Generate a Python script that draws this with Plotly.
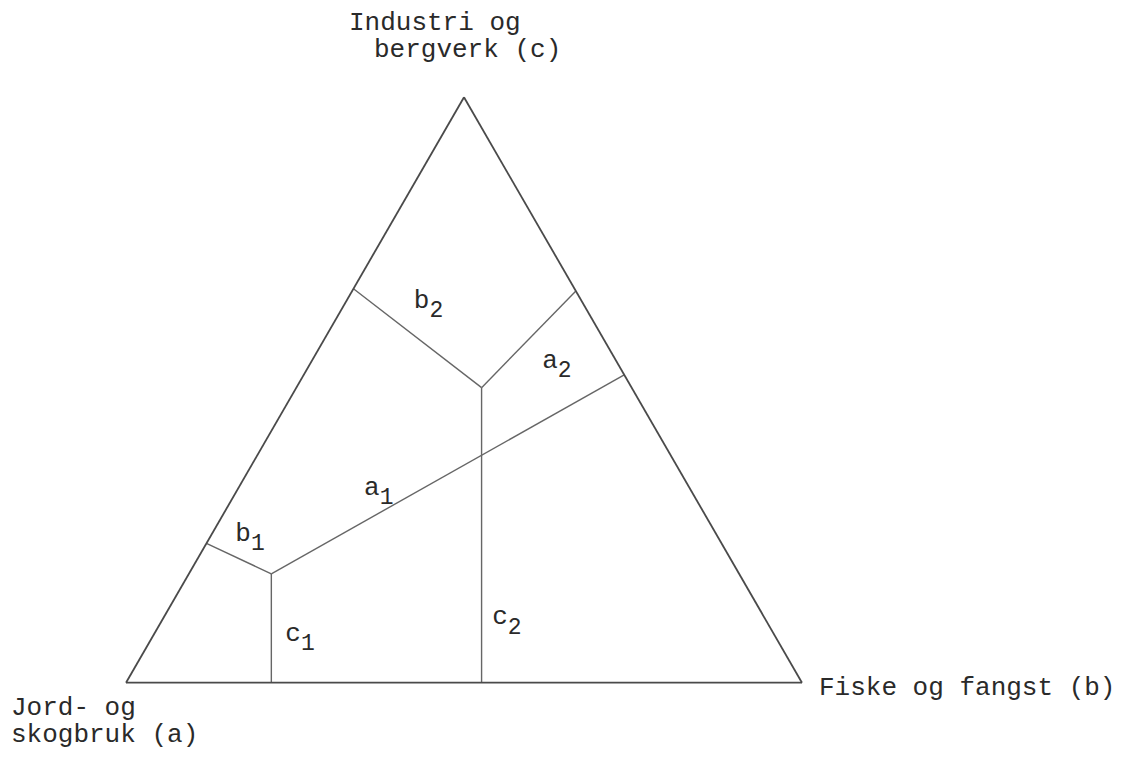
import plotly.graph_objects as go

# shares in percent: a = Jord- og skogbruk, b = Fiske og fangst, c = Industri og bergverk
boundaries = ['b1', 'c1', 'a1', 'b2', 'a2', 'c2']
a_from = [76.2, 78.5, 69.2, 32.7, 0.0, 47.4]
b_from = [0.0, 21.5, 12.2, 0.0, 33.1, 52.6]
c_from = [23.8, 0.0, 18.6, 67.3, 66.9, 0.0]
a_to = [69.2, 69.2, 0.0, 22.2, 22.2, 22.2]
b_to = [12.2, 12.2, 47.4, 27.4, 27.4, 27.4]
c_to = [18.6, 18.6, 52.6, 50.4, 50.4, 50.4]

# region labels
region_letters = ['b', 'c', 'a', 'b', 'a', 'c']
region_numbers = ['1', '1', '1', '2', '2', '2']
label_a = [69.0, 70.1, 46.0, 22.7, 8.8, 38.1]
label_b = [5.7, 21.6, 20.8, 12.2, 36.3, 50.8]
label_c = [25.3, 8.3, 33.2, 65.1, 54.9, 11.1]

# the page body adds an 8 px offset, so the figure is drawn 8 px smaller
OFF = 8
W, H = 1138 - OFF, 757 - OFF
L, R, T, B = 126 - OFF, 802 - OFF, 97 - OFF, 683 - OFF   # triangle box

FONT = 'Liberation Mono, Courier New, monospace'
INK = '#2a2a2a'

fig = go.Figure()

# plotly ternary: aaxis = top, baxis = bottom-left, caxis = bottom-right
for i in range(len(boundaries)):
    fig.add_trace(go.Scatterternary(
        a=[c_from[i], c_to[i]],
        b=[a_from[i], a_to[i]],
        c=[b_from[i], b_to[i]],
        mode='lines',
        line=dict(color='#666666', width=1.4),
        hoverinfo='skip',
        showlegend=False,
    ))

labels = [f'{l}<sub><sub><span style="font-size:23px">{n}</span></sub></sub>'
          for l, n in zip(region_letters, region_numbers)]
fig.add_trace(go.Scatterternary(
    a=label_c, b=label_a, c=label_b,
    mode='text',
    text=labels,
    textfont=dict(family=FONT, size=26, color=INK),
    hoverinfo='skip',
    showlegend=False,
))

axis_style = dict(showgrid=False, showticklabels=False, ticks='',
                  linecolor='#4a4a4a', linewidth=1.8, title=dict(text=''))


def px(x, y):
    x, y = x - OFF, y - OFF
    return (x - L) / (R - L), (B - y) / (B - T)


corner_labels = [
    ('Industri og', 347, 23),
    ('bergverk (c)', 372, 50),
    ('Fiske og fangst (b)', 817, 688),
    ('Jord- og', 9, 708),
    ('skogbruk (a)', 9, 735),
]
annotations = []
for text, x, y in corner_labels:
    xp, yp = px(x, y)
    annotations.append(dict(text=text, x=xp, y=yp, xref='paper', yref='paper',
                            xanchor='left', yanchor='middle', showarrow=False,
                            font=dict(family=FONT, size=26, color=INK)))

fig.update_layout(
    width=W, height=H,
    margin=dict(l=L, r=W - R, t=T, b=H - B, pad=0),
    paper_bgcolor='white',
    ternary=dict(sum=100, bgcolor='white',
                 aaxis=axis_style, baxis=axis_style, caxis=axis_style),
    annotations=annotations,
)

fig.write_html('out.html')
